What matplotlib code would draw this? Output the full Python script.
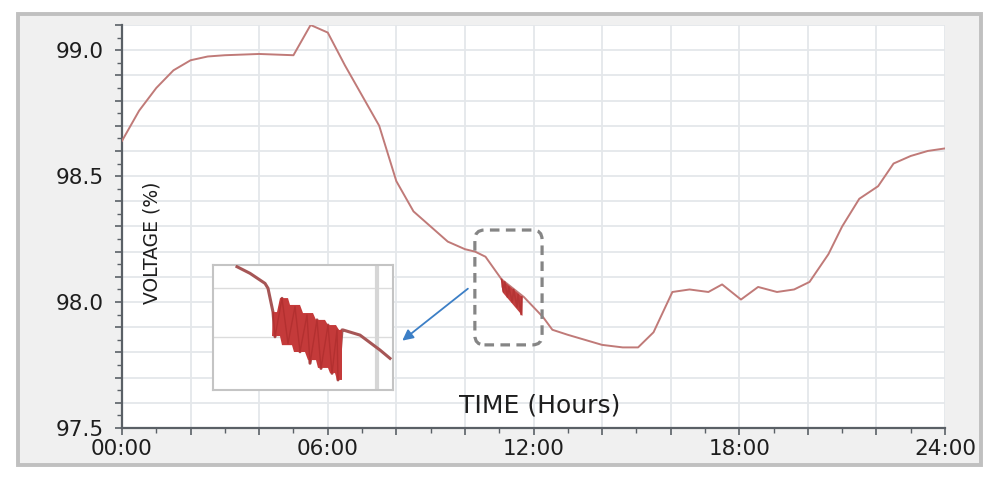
import numpy as np
import matplotlib
matplotlib.use("Agg")
import matplotlib.pyplot as plt
from matplotlib.patches import Rectangle, FancyBboxPatch
from matplotlib.ticker import MultipleLocator, FuncFormatter

# voltage profile over the day (hours, % of nominal)
hours = [0.0, 0.5, 1.0, 1.5, 2.0, 2.5, 3.0, 4.0, 5.0, 5.5, 6.0, 6.5, 7.0, 7.5,
         8.0, 8.5, 9.0, 9.5, 10.0, 10.3, 10.6, 11.07, 11.72, 12.0, 12.28, 12.55,
         13.0, 14.0, 14.6, 15.05, 15.5, 16.05, 16.55, 17.1, 17.5, 18.05, 18.55,
         19.1, 19.6, 20.05, 20.6, 21.0, 21.5, 22.05, 22.5, 23.0, 23.5, 24.0]
voltage = [98.64, 98.76, 98.85, 98.92, 98.96, 98.975, 98.98, 98.985, 98.98, 99.10,
           99.07, 98.94, 98.82, 98.70, 98.48, 98.36, 98.30, 98.24, 98.21, 98.20,
           98.18, 98.09, 98.02, 97.98, 97.94, 97.89, 97.87, 97.83, 97.82, 97.82,
           97.88, 98.04, 98.05, 98.04, 98.07, 98.01, 98.06, 98.04, 98.05, 98.08,
           98.19, 98.30, 98.41, 98.46, 98.55, 98.58, 98.60, 98.61]

# voltage sag oscillation around noon (main chart)
sag_hours = [11.07, 11.12, 11.16, 11.24, 11.28, 11.38, 11.42, 11.52, 11.55,
             11.64, 11.66]
sag_voltage = [98.09, 98.04, 98.08, 98.02, 98.06, 98.00, 98.05, 97.98, 98.03,
               97.95, 98.02]
sag_top_hours = [11.07, 11.68]
sag_top = [98.09, 98.02]
sag_bot_hours = [11.07, 11.12, 11.68]
sag_bot = [98.06, 98.035, 97.945]

# zoomed view of the sag (inset)
zoom_hours = [10.74, 10.87, 11.02, 11.05, 11.10, 11.12, 11.19, 11.25, 11.32,
              11.37, 11.44, 11.47, 11.54, 11.58, 11.65, 11.69, 11.74, 11.75,
              11.79, 11.80, 11.97, 12.17, 12.27]
zoom_voltage = [98.238, 98.211, 98.170, 98.150, 98.053, 97.952, 98.109, 97.925,
                98.075, 97.891, 98.041, 97.844, 98.021, 97.823, 98.000, 97.803,
                97.980, 97.776, 97.980, 97.980, 97.959, 97.898, 97.864]
zoom_top_hours = [11.10, 11.14, 11.17, 11.25, 11.27, 11.37, 11.40, 11.50, 11.53,
                  11.62, 11.65, 11.73, 11.76, 11.79]
zoom_top = [98.053, 98.053, 98.110, 98.110, 98.082, 98.082, 98.049, 98.049,
            98.021, 98.021, 98.000, 98.000, 97.980, 97.980]
zoom_bot_hours = [11.09, 11.17, 11.19, 11.29, 11.31, 11.42, 11.45, 11.53, 11.55,
                  11.65, 11.67, 11.72, 11.74, 11.79]
zoom_bot = [97.955, 97.955, 97.918, 97.918, 97.890, 97.890, 97.857, 97.857,
            97.825, 97.825, 97.804, 97.804, 97.776, 97.776]

x_labels = {0: '00:00', 6: '06:00', 12: '12:00', 18: '18:00', 24: '24:00'}

W, H = 992, 480
fig = plt.figure(figsize=(W / 100, H / 100), dpi=100)
fig.patch.set_facecolor('white')

# outer grey panel
fig.patches.append(Rectangle((18 / W, 1 - 465 / H), (981 - 18) / W, (465 - 14) / H,
                             transform=fig.transFigure, facecolor='#f0f0f0',
                             edgecolor='#c0c0c0', lw=2.8, zorder=-5))

ax_l, ax_r, ax_t, ax_b = 122, 945, 25, 428
ax = fig.add_axes([ax_l / W, 1 - ax_b / H, (ax_r - ax_l) / W, (ax_b - ax_t) / H])
ax.set_facecolor('white')

ax.plot(hours, voltage, color='#c07a78', lw=1.4, zorder=3)
ax.fill(sag_top_hours + sag_bot_hours[::-1], sag_top + sag_bot[::-1],
        color='#c23e3e', lw=0, zorder=4)
ax.plot(sag_hours, sag_voltage, color='#b53434', lw=1.2, zorder=4)

ax.set_xlim(0, 24)
ax.set_ylim(97.5, 99.1)

ax.xaxis.set_major_locator(MultipleLocator(2))
ax.xaxis.set_minor_locator(MultipleLocator(1))
ax.xaxis.set_major_formatter(FuncFormatter(lambda v, p: x_labels.get(int(round(v)), '')))
ax.yaxis.set_major_locator(MultipleLocator(0.1))
ax.yaxis.set_minor_locator(MultipleLocator(0.05))
ax.yaxis.set_major_formatter(FuncFormatter(
    lambda v, p: f'{v:.1f}' if abs(v * 2 - round(v * 2)) < 1e-6 else ''))

ax.grid(True, which='major', color='#e4e7ea', lw=1.3, zorder=0)
ax.set_axisbelow(True)

for side in ('top', 'right'):
    ax.spines[side].set_visible(False)
for side in ('left', 'bottom'):
    ax.spines[side].set_color('#5a6066')
    ax.spines[side].set_linewidth(1.6)

ax.tick_params(which='major', length=5, width=1.2, color='#5a6066',
               labelsize=15.5, labelcolor='#1e1e1e', pad=3)
ax.tick_params(which='minor', length=3.5, width=1.0, color='#5a6066')
ax.tick_params(axis='y', which='major', pad=8)

ax.text(0.508, 0.057, 'TIME (Hours)', transform=ax.transAxes, fontsize=18,
        color='#1e1e1e', ha='center', va='center')
ax.text(0.0365, 0.459, 'VOLTAGE (%)', transform=ax.transAxes, fontsize=13.5,
        color='#1e1e1e', ha='center', va='center', rotation=90)

# dashed rounded box around the sag
bx0, bx1, by0, by1 = 10.29, 12.25, 97.83, 98.286
px_per_h = (ax_r - ax_l) / 24
px_per_v = (ax_b - ax_t) / 1.6
aspect = (1 / px_per_v) / (1 / px_per_h)
box = FancyBboxPatch((bx0, by0), bx1 - bx0, by1 - by0,
                     boxstyle='round,pad=0,rounding_size=0.28',
                     mutation_aspect=aspect, facecolor='none',
                     edgecolor='#858585', lw=2.3, linestyle=(0, (3, 2)), zorder=5)
ax.add_patch(box)

ax.annotate('', xy=(8.11, 97.84), xytext=(10.15, 98.06),
            arrowprops=dict(arrowstyle='-|>', color='#3c7fc6', lw=1.3,
                            mutation_scale=16), zorder=6)

# inset with the zoomed sag
axi = fig.add_axes([213 / W, 1 - 390 / H, 180 / W, 125 / H])
axi.set_facecolor('white')
axi.set_xlim(10.5, 12.3)
axi.set_ylim(97.735, 98.245)
axi.set_xticks([])
axi.set_yticks([97.95, 98.15])
axi.tick_params(length=0, labelleft=False)
axi.grid(True, axis='y', color='#dcdcdc', lw=1.0)
axi.axvline(12.14, color='#d6d6d6', lw=3)
for s in axi.spines.values():
    s.set_color('#c4c4c4')
    s.set_linewidth(1.5)
axi.plot(zoom_hours, zoom_voltage, color='#a65656', lw=2.2, zorder=3)
axi.fill(zoom_top_hours + zoom_bot_hours[::-1], zoom_top + zoom_bot[::-1],
         color='#c43a3a', lw=0, zorder=4)
axi.plot(zoom_hours[4:18], zoom_voltage[4:18], color='#b33030', lw=1.0, zorder=5)

fig.savefig('out.png', dpi=100)
